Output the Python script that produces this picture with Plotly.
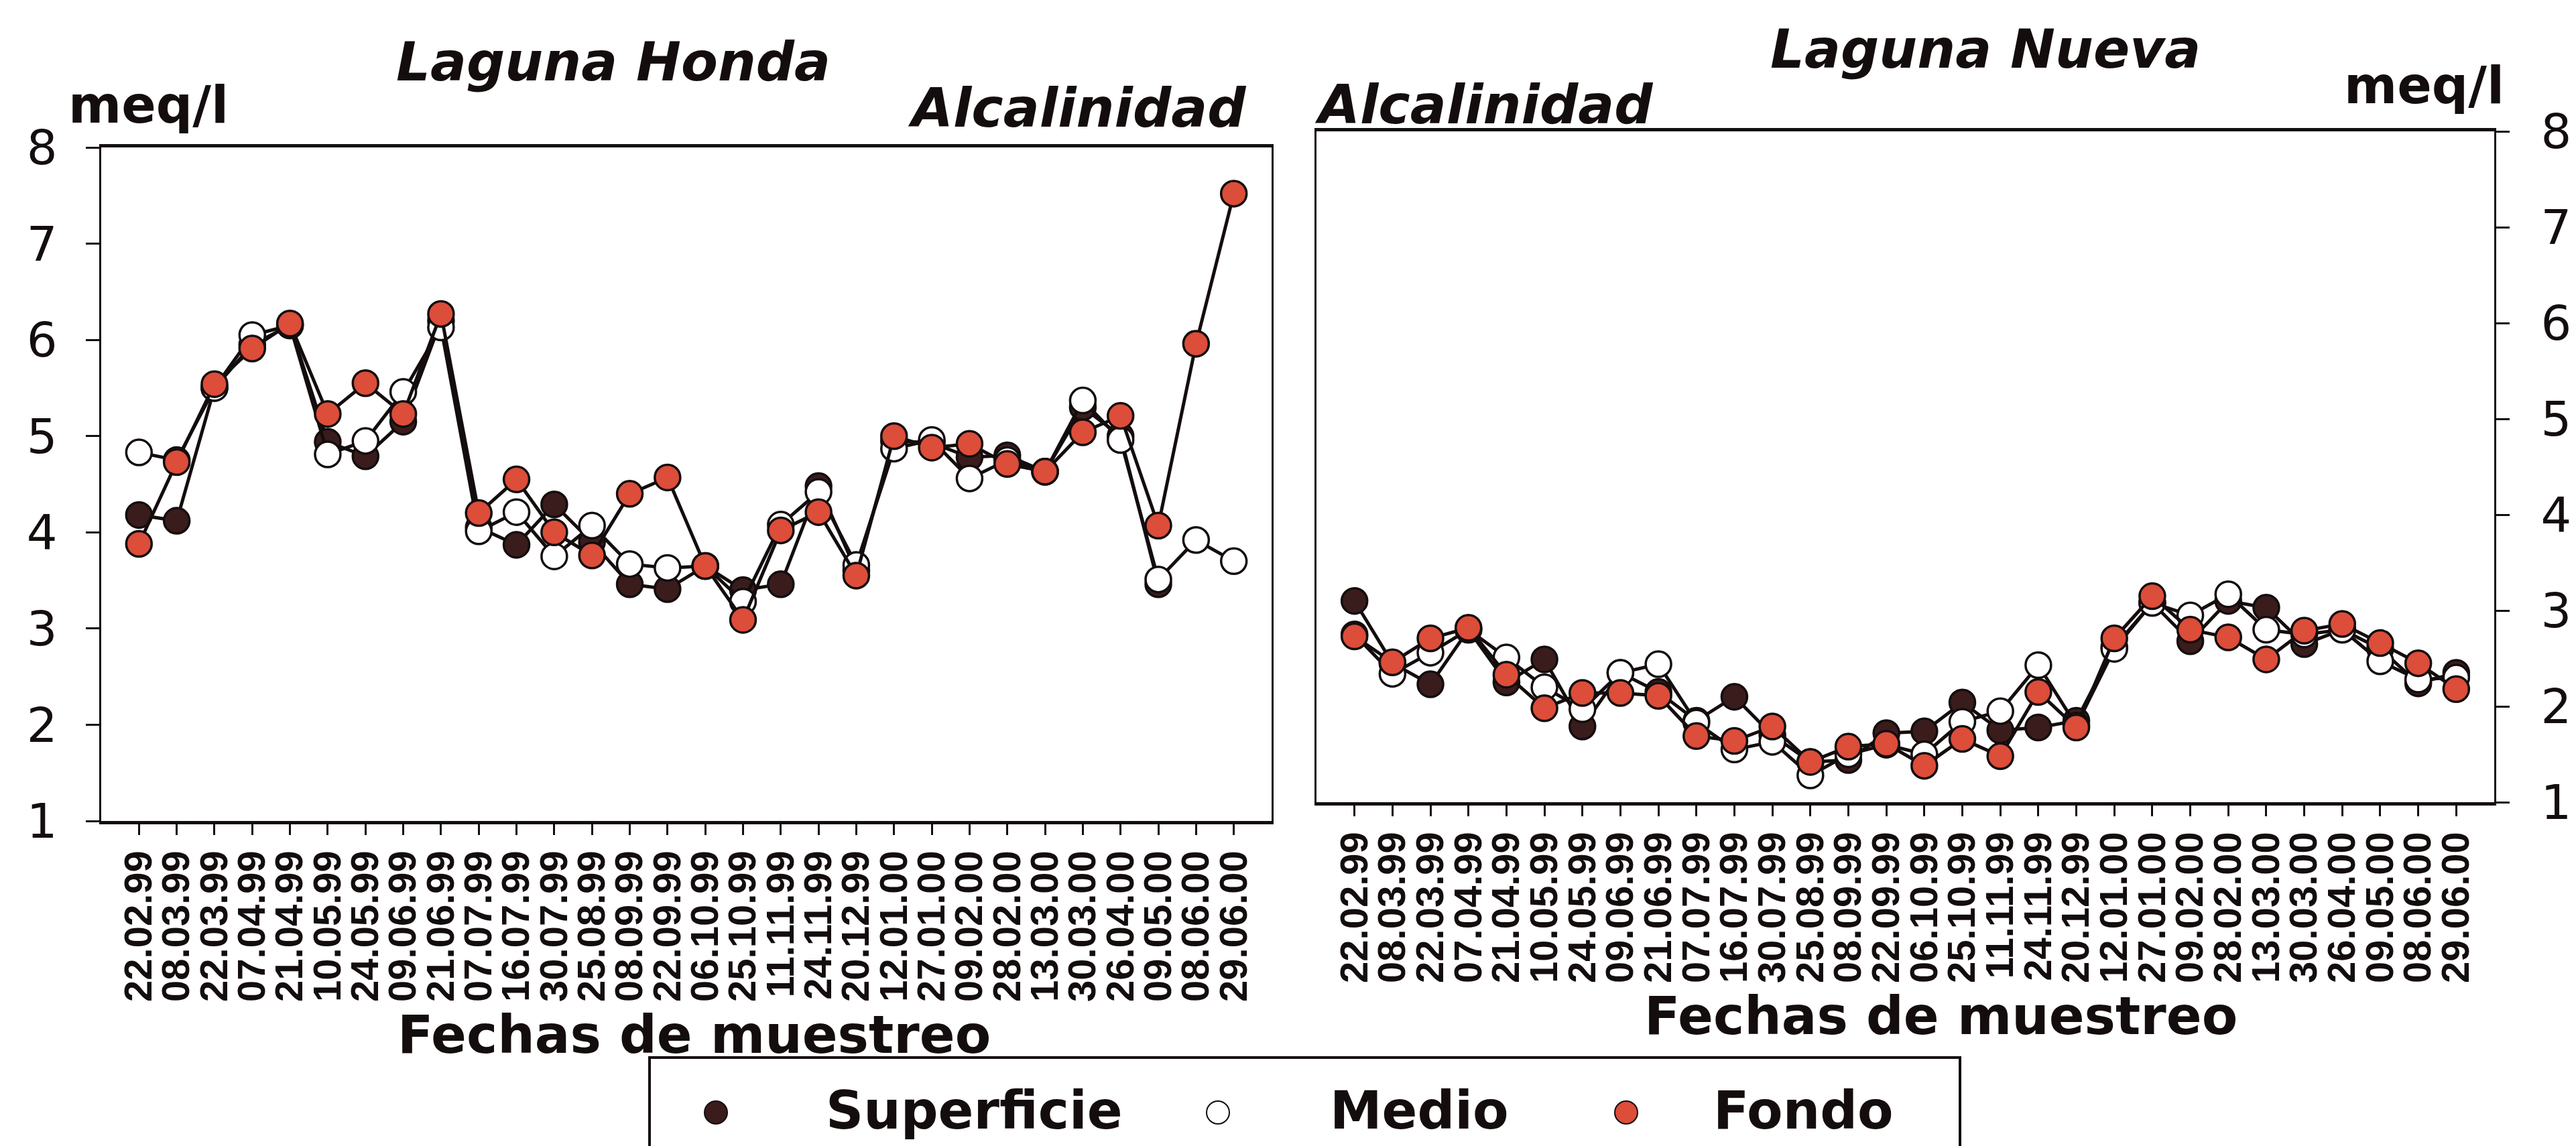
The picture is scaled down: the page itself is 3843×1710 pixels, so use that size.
import plotly.graph_objects as go

# Sampling dates (shared by both lagoons)
fechas = [
    "22.02.99", "08.03.99", "22.03.99", "07.04.99", "21.04.99", "10.05.99",
    "24.05.99", "09.06.99", "21.06.99", "07.07.99", "16.07.99", "30.07.99",
    "25.08.99", "08.09.99", "22.09.99", "06.10.99", "25.10.99", "11.11.99",
    "24.11.99", "20.12.99", "12.01.00", "27.01.00", "09.02.00", "28.02.00",
    "13.03.00", "30.03.00", "26.04.00", "09.05.00", "08.06.00", "29.06.00",
]

# Alkalinity (meq/l) - Laguna Honda
honda_superficie = [4.18, 4.12, 5.50, 5.95, 6.15, 4.94, 4.79, 5.15, 6.20, 4.05,
                    3.87, 4.29, 3.90, 3.46, 3.41, 3.65, 3.40, 3.46, 4.48, 3.60,
                    4.95, 4.93, 4.78, 4.80, 4.63, 5.30, 5.00, 3.46, None, None]
honda_medio = [4.83, 4.75, 5.50, 6.05, 6.15, 4.81, 4.95, 5.46, 6.13, 4.01,
               4.21, 3.75, 4.07, 3.67, 3.63, 3.65, 3.28, 4.08, 4.42, 3.66,
               4.87, 4.96, 4.56, 4.75, 4.63, 5.37, 4.96, 3.51, 3.92, 3.70]
honda_fondo = [3.88, 4.73, 5.54, 5.91, 6.17, 5.23, 5.55, 5.23, 6.27, 4.20,
               4.55, 4.00, 3.76, 4.40, 4.57, 3.65, 3.09, 4.02, 4.21, 3.55,
               5.00, 4.88, 4.92, 4.71, 4.63, 5.04, 5.21, 4.07, 5.96, 7.52]

# Alkalinity (meq/l) - Laguna Nueva
nueva_superficie = [3.10, 2.45, 2.23, 2.80, 2.25, 2.49, 1.79, 2.35, 2.15, 1.85,
                    2.10, 1.70, 1.42, 1.44, 1.72, 1.74, 2.04, 1.75, 1.78, 1.85,
                    2.62, 3.08, 2.68, 3.10, 3.03, 2.65, 2.80, 2.60, 2.24, 2.35]
nueva_medio = [2.75, 2.34, 2.56, 2.80, 2.51, 2.20, 1.97, 2.35, 2.44, 1.83,
               1.55, 1.63, 1.28, 1.50, 1.60, 1.50, 1.84, 1.95, 2.43, 1.80,
               2.60, 3.08, 2.95, 3.17, 2.80, 2.75, 2.80, 2.47, 2.28, 2.30]
nueva_fondo = [2.73, 2.46, 2.71, 2.82, 2.33, 1.98, 2.14, 2.14, 2.11, 1.69,
               1.64, 1.79, 1.42, 1.58, 1.61, 1.38, 1.66, 1.48, 2.15, 1.78,
               2.71, 3.15, 2.80, 2.72, 2.49, 2.79, 2.86, 2.66, 2.45, 2.18]

niveles = ["Superficie", "Medio", "Fondo"]
colores = {"Superficie": "#3a1c1c", "Medio": "#ffffff", "Fondo": "#dc4d3a"}

W, H = 3843, 1710
INK = "#140d0d"


def fx(p):
    return p / W


def fy(p):
    return 1 - p / H


fig = go.Figure()
idx = list(range(len(fechas)))

paneles = [
    ("x", "y", [honda_superficie, honda_medio, honda_fondo]),
    ("x2", "y2", [nueva_superficie, nueva_medio, nueva_fondo]),
]
for xa, ya, series in paneles:
    for nivel, vals in zip(niveles, series):
        fig.add_trace(go.Scatter(
            x=idx, y=vals, name=nivel, mode="lines+markers",
            xaxis=xa, yaxis=ya, showlegend=False,
            line=dict(color=INK, width=5),
            marker=dict(size=38, color=colores[nivel],
                        line=dict(color=INK, width=3.5)),
        ))

tick_x = dict(
    range=[-1, 30], tickmode="array", tickvals=idx, ticktext=fechas,
    tickangle=-90, ticks="outside", ticklen=16, tickwidth=3, tickcolor=INK,
    showline=True, linewidth=5, linecolor=INK, mirror=True,
    showgrid=False, zeroline=False, automargin=False,
    tickfont=dict(family="Liberation Sans", size=58, color=INK, weight="bold"),
)
tick_y = dict(
    range=[1, 8], tickmode="array", tickvals=list(range(1, 9)),
    ticks="outside", ticklen=20, tickwidth=3, tickcolor=INK,
    showline=True, linewidth=3, linecolor=INK, mirror=True,
    showgrid=False, zeroline=False, automargin=False,
    tickfont=dict(family="DejaVu Sans", size=72, color=INK),
)

fig.update_layout(
    width=W, height=H,
    margin=dict(l=0, r=0, t=0, b=0, autoexpand=False),
    paper_bgcolor="white", plot_bgcolor="white",
    showlegend=False,
    xaxis=dict(tick_x, domain=[fx(151), fx(1897)], anchor="y"),
    yaxis=dict(tick_y, domain=[fy(1225), fy(220)], anchor="x",
               ticklabelstandoff=28),
    xaxis2=dict(tick_x, domain=[fx(1964), fx(3721)], anchor="y2"),
    yaxis2=dict(tick_y, domain=[fy(1197), fy(196)], anchor="x2", side="right",
                ticklabelstandoff=32),
)

bold = dict(family="DejaVu Sans", color=INK, weight="bold")
titulos = [
    ("Laguna Honda", 915, 92, 80, True),
    ("meq/l", 221, 156, 76, False),
    ("Alcalinidad", 1606, 161, 80, True),
    ("Alcalinidad", 2213, 156, 80, True),
    ("Laguna Nueva", 2962, 74, 80, True),
    ("meq/l", 3616, 128, 76, False),
    ("Fechas de muestreo", 1035, 1544, 78, False),
    ("Fechas de muestreo", 2895, 1516, 78, False),
]
for texto, px, py, size, italic in titulos:
    fig.add_annotation(
        text=texto, x=fx(px), y=fy(py), xref="paper", yref="paper",
        xanchor="center", yanchor="middle", showarrow=False,
        font=dict(bold, size=size, style="italic" if italic else "normal"),
    )

# Legend box with symbol and label for each depth level
fig.add_shape(type="rect", xref="paper", yref="paper",
              x0=fx(969), x1=fx(2924), y0=fy(1740), y1=fy(1578),
              line=dict(color=INK, width=4), fillcolor="rgba(0,0,0,0)")
leyenda = [("Superficie", 1068, 1230), ("Medio", 1817, 1982), ("Fondo", 2426, 2554)]
for nivel, cx, tx in leyenda:
    r = 17
    fig.add_shape(type="circle", xref="paper", yref="paper",
                  x0=fx(cx - r), x1=fx(cx + r), y0=fy(1660 + r), y1=fy(1660 - r),
                  fillcolor=colores[nivel], line=dict(color=INK, width=2))
    fig.add_annotation(
        text=nivel, x=fx(tx), y=fy(1657), xref="paper", yref="paper",
        xanchor="left", yanchor="middle", showarrow=False,
        font=dict(bold, size=78),
    )

fig.write_html("out.html")
